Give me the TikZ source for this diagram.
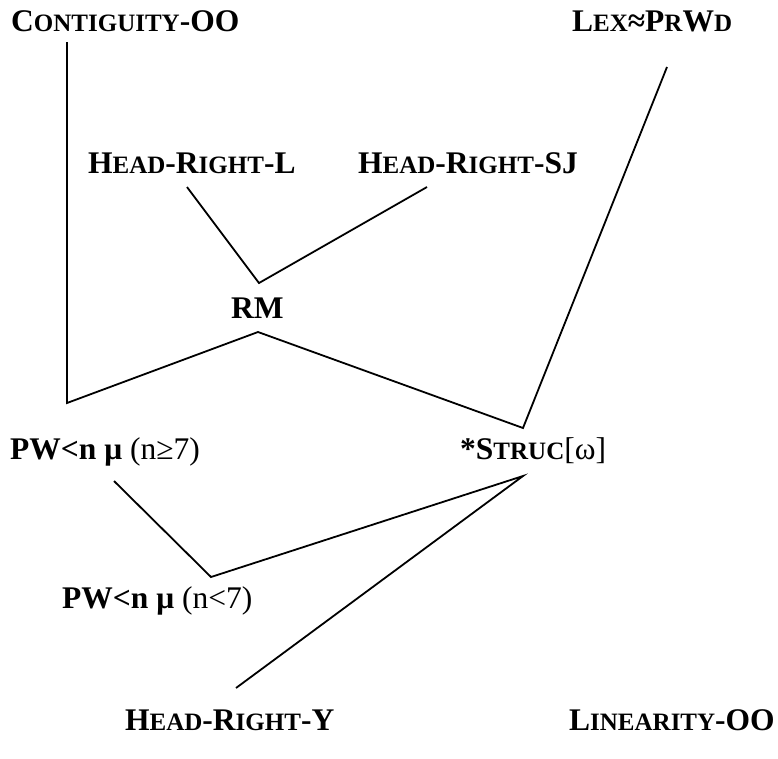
\documentclass[tikz,border=0pt]{standalone}
\usepackage{fontspec}
\setmainfont{Liberation Serif}
\usepackage{tikz}
\usetikzlibrary{positioning,calc}

% fake small caps
\newcommand{\sco}[1]{{\fontsize{25}{27}\selectfont #1}}

\begin{document}
\begin{tikzpicture}[
    x=1pt, y=-1pt,
    con/.style={font=\bfseries\fontsize{31.5}{34}\selectfont, anchor=base west, inner sep=0pt},
    rank/.style={line width=1.8pt, line join=miter}
]
  \useasboundingbox (0,0) rectangle (778,758);

  % Nodes
  \node[con] (contig) at (11,31) {C\sco{ONTIGUITY}-OO};
  \node[con] (lex) at (572,31) {L\sco{EX}≈P\sco{R}W\sco{D}};
  \node[con] (hrl) at (88,173) {H\sco{EAD}-R\sco{IGHT}-L};
  \node[con] (hrsj) at (358,173) {H\sco{EAD}-R\sco{IGHT}-SJ};
  \node[con] (rm) at (231,318) {RM};
  \node[con] (pwbig) at (10,459) {PW<n μ \mdseries(n≥7)};
  \node[con] (struc) at (460,459) {*S\sco{TRUC}\mdseries[ω]};
  \node[con] (pwsmall) at (62,608) {PW<n μ \mdseries(n<7)};
  \node[con] (hry) at (125,730) {H\sco{EAD}-R\sco{IGHT}-Y};
  \node[con] (lin) at (569,730) {L\sco{INEARITY}-OO};

  % Line ends
  \coordinate (contigend) at (67,42);
  \coordinate (lexend) at (667,67);
  \coordinate (hrlend) at (187,187);
  \coordinate (hrsjend) at (427,187);
  \coordinate (rmtop) at (259,283);
  \coordinate (rmbot) at (258,332);
  \coordinate (pwbigtop) at (67,403);
  \coordinate (pwbigend) at (114,481);
  \coordinate (structop) at (523,428);
  \coordinate (strucbot) at (523,476);
  \coordinate (pwsmalltop) at (211,577);
  \coordinate (hryend) at (236,688);

  % Lines
  \draw[rank] (contigend) -- (pwbigtop) -- (rmbot) -- (structop) -- (lexend);
  \draw[rank] (hrlend) -- (rmtop) -- (hrsjend);
  \draw[rank] (pwbigend) -- (pwsmalltop) -- (strucbot) -- (hryend);
\end{tikzpicture}
\end{document}
